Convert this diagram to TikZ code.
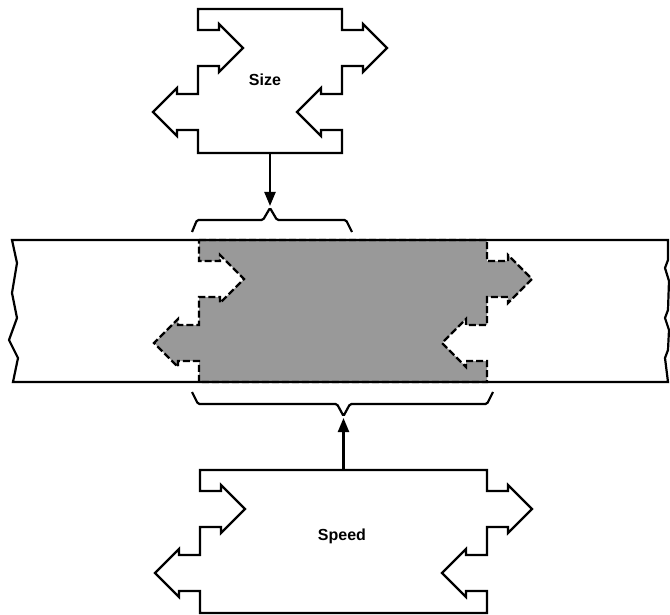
\documentclass[tikz,border=0pt]{standalone}
\usepackage{fontspec}
\setmainfont{Liberation Sans}
\usetikzlibrary{arrows.meta}
\newcommand\piecepath[4]{(#1,#3) -- (#2,#3) -- (#2,{#3+21}) -- ({#2+21},{#3+21}) -- ({#2+21},{#3+15}) -- ({#2+45},{#3+39}) -- ({#2+21},{#3+63}) -- ({#2+21},{#3+57}) -- (#2,{#3+57}) -- (#2,{#3+85}) -- ({#2-21},{#3+85}) -- ({#2-21},{#3+79}) -- ({#2-45},{#3+103}) -- ({#2-21},{#3+127}) -- ({#2-21},{#3+121}) -- (#2,{#3+121}) -- (#2,#4) -- (#1,#4) -- (#1,{#3+121}) -- ({#1-21},{#3+121}) -- ({#1-21},{#3+127}) -- ({#1-45},{#3+103}) -- ({#1-21},{#3+79}) -- ({#1-21},{#3+85}) -- (#1,{#3+85}) -- (#1,{#3+57}) -- ({#1+21},{#3+57}) -- ({#1+21},{#3+63}) -- ({#1+45},{#3+39}) -- ({#1+21},{#3+15}) -- ({#1+21},{#3+21}) -- (#1,{#3+21}) -- cycle}
\tikzset{
  ln/.style={line width=2.2pt, line join=miter},
  dashln/.style={line width=2.2pt, dash pattern=on 7pt off 3pt},
  shade/.style={fill=black!40},
  lab/.style={font=\bfseries\fontsize{16}{19}\selectfont, inner sep=0pt},
  ghost/.style={inner sep=0pt, draw=none},
  arr/.style={line width=2.2pt, -{Triangle[length=14pt,width=11pt]}},
  brace/.style={line width=2.2pt, rounded corners=1.5pt}
}
\begin{document}
\begin{tikzpicture}[x=1pt,y=-1pt]
\useasboundingbox (0,0) rectangle (670,615);
% boxes as named (invisible) nodes
\node[ghost, minimum width=144pt, minimum height=144pt] (sizebox) at (270,81) {};
\node[ghost, minimum width=287pt, minimum height=143pt] (speedbox) at (343.5,541.5) {};
% shaded piece in the band
\fill[shade] \piecepath{199}{487}{240}{382};
\draw[dashln] \piecepath{199}{487}{240}{382};
% band
\draw[ln] (12,240) -- (668,240) -- (668,260) -- (665,268) -- (669,281) -- (668,310) -- (665,318) -- (669,330) -- (668,350) -- (665,358) -- (668,382)
  -- (13,382) -- (18,358) -- (9,340) -- (17,318) -- (12,293) -- (17,263) -- cycle;
% Size piece
\draw[ln] \piecepath{198}{342}{9}{153};
\node[lab] (sizelab) at (265,80) {Size};
% Speed piece
\draw[ln] \piecepath{200}{487}{470}{613};
\node[lab] (speedlab) at (342,536) {Speed};
% braces
\coordinate (topbrace) at (270,208);
\coordinate (botbrace) at (343.5,416);
\draw[brace] (192,232) -- (197,220) -- (263,220) -- (topbrace) -- (277,220) -- (346,220) -- (352,232);
\draw[brace] (192,392) -- (198,404) -- (337,404) -- (botbrace) -- (350,404) -- (487,404) -- (493,392);
% connectors
\draw[arr] (sizebox.south) -- ([yshift=2pt]topbrace);
\draw[arr] (speedbox.north) -- ([yshift=-2pt]botbrace);
\end{tikzpicture}
\end{document}
